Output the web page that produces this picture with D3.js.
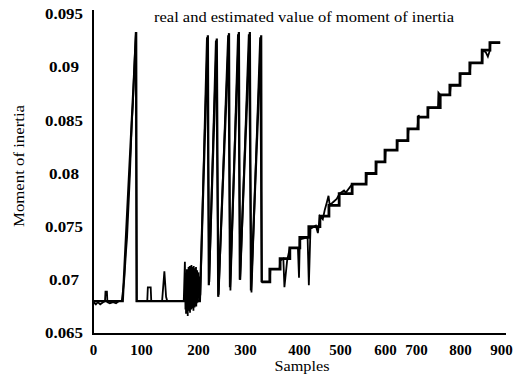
<!DOCTYPE html>
<html>
<head>
<meta charset="utf-8">
<script src="https://cdn.jsdelivr.net/npm/d3@7/dist/d3.min.js"></script>
<style>
  html, body { margin: 0; padding: 0; background: #fff; }
  svg { display: block; }
  svg text { font-family: "Liberation Serif", "Times New Roman", "DejaVu Serif", serif; fill: #000; }
</style>
</head>
<body>
<svg id="chart" width="519" height="378"></svg>
<script>
// ---------------- data ----------------
const titleText = "real and estimated value of moment of inertia";
const xAxisTitle = "Samples";
const yAxisTitle = "Moment of inertia";

const xTickValues = [0, 100, 200, 300, 400, 500, 600, 700, 800, 900];
const xTickLabels = ["0", "100", "200", "300", "400", "500", "600", "700", "800", "900"];
const yTickValues = [0.065, 0.07, 0.075, 0.08, 0.085, 0.09, 0.095];
const yTickLabels = ["0.065", "0.07", "0.075", "0.08", "0.085", "0.09", "0.095"];

// real value: ramp / sawtooth part (linear segments)
const realRampSamples = [0, 62, 90, 91, 204, 221, 223, 240, 243, 266, 268, 287, 289, 309, 311, 330, 331];
const realRampValues  = [0.0680, 0.0680, 0.0933, 0.0680, 0.0680, 0.0930, 0.0695, 0.0927, 0.0684, 0.0932, 0.0693,
                         0.0933, 0.0700, 0.0933, 0.0690, 0.0930, 0.0698];

// real value: staircase part (step after)
const realStepSamples = [331, 346, 365, 383, 402, 424, 451, 473, 498, 527, 558, 580, 600, 639, 674, 705, 727,
                         755, 777, 800, 824, 854, 873, 898];
const realStepValues  = [0.0698, 0.0710, 0.0720, 0.0730, 0.0740, 0.0750, 0.0760, 0.0770, 0.0781, 0.0790, 0.0800,
                         0.0811, 0.0822, 0.0831, 0.0842, 0.0853, 0.0862, 0.0874, 0.0883, 0.0894, 0.0904, 0.0916,
                         0.0923, 0.0923];

// estimated value
const estSamples = [0, 2, 6, 10, 15, 21, 25, 26, 29, 30, 35, 42, 48, 54, 60, 65, 69, 71, 74, 77, 81, 83, 89, 91,
  107, 111, 112, 117, 118, 137, 141, 144, 146, 175,
  177, 178, 178.5, 179, 179.5, 180, 180.5, 181, 181.5, 182, 182.5, 183, 183.5, 184, 184.5, 185, 185.5, 186, 186.5,
  187, 187.5, 188, 188.5, 189, 189.5, 190, 190.5, 191, 191.5, 192, 192.5, 193, 193.5, 194, 194.5, 195, 195.5, 196,
  196.5, 197, 197.5, 198, 198.5, 199, 199.5, 200, 201, 202, 203, 204, 205,
  219, 224, 238, 244, 264, 269, 285, 290, 307, 312, 328, 331,
  346, 347, 364, 365, 371, 373, 378, 383, 398, 400, 402, 421, 424, 428, 441, 446, 451, 458, 463, 468, 472, 475,
  483, 492, 499, 509, 513, 527, 558, 559, 580, 581, 600, 602, 639, 640, 673, 676, 703, 706, 707, 727, 728, 750,
  751, 755, 777, 779, 800, 801, 824, 826, 854, 855, 863, 868, 873, 874, 898];
const estValues = [0.0676, 0.0679, 0.0677, 0.0679, 0.0677, 0.0679, 0.0680, 0.0689, 0.0689, 0.0679, 0.0678, 0.0679,
  0.0678, 0.0680, 0.0680, 0.0700, 0.0728, 0.0740, 0.0770, 0.0800, 0.0850, 0.0865, 0.0933, 0.0680,
  0.0680, 0.0680, 0.0693, 0.0693, 0.0680, 0.0680, 0.0708, 0.0684, 0.0680, 0.0680,
  0.0717, 0.0672, 0.0705, 0.0668, 0.0702, 0.0674, 0.0710, 0.0670, 0.0708, 0.0666, 0.0704, 0.0676, 0.0712, 0.0671,
  0.0709, 0.0675, 0.0713, 0.0669, 0.0707, 0.0677, 0.0711, 0.0672, 0.0714, 0.0678, 0.0709, 0.0673, 0.0712, 0.0676,
  0.0708, 0.0671, 0.0713, 0.0679, 0.0710, 0.0674, 0.0711, 0.0677, 0.0708, 0.0680, 0.0712, 0.0675, 0.0706, 0.0678,
  0.0709, 0.0681, 0.0705, 0.0679, 0.0707, 0.0683, 0.0703, 0.0684, 0.0686,
  0.0928, 0.0698, 0.0925, 0.0686, 0.0930, 0.0690, 0.0931, 0.0700, 0.0931, 0.0688, 0.0928, 0.0698,
  0.0698, 0.0710, 0.0710, 0.0718, 0.0720, 0.0693, 0.0718, 0.0730, 0.0730, 0.0702, 0.0738, 0.0740, 0.0695, 0.0748,
  0.0751, 0.0744, 0.0760, 0.0757, 0.0766, 0.0773, 0.0779, 0.0770, 0.0773, 0.0776, 0.0781, 0.0784, 0.0782, 0.0790,
  0.0790, 0.0800, 0.0800, 0.0811, 0.0811, 0.0822, 0.0822, 0.0831, 0.0831, 0.0842, 0.0842, 0.0855, 0.0853, 0.0853,
  0.0862, 0.0862, 0.0876, 0.0874, 0.0874, 0.0883, 0.0883, 0.0894, 0.0894, 0.0904, 0.0904, 0.0916, 0.0914, 0.0910,
  0.0916, 0.0923, 0.0923];

// ---------------- layout ----------------
const svg = d3.select("#chart");

// axis pixel positions of the printed tick labels (labels are unevenly spaced in the figure)
const x = d3.scaleLinear()
  .domain(xTickValues)
  .range([93, 141, 198, 245, 299, 340, 385, 416, 460, 501]);
const y = d3.scaleLinear().domain([0.065, 0.095]).range([333, 14]);

const zip = (xs, ys) => xs.map((s, i) => [s, ys[i]]);

const lineLin = d3.line().x(d => x(d[0])).y(d => y(d[1])).curve(d3.curveLinear);
const lineStep = d3.line().x(d => x(d[0])).y(d => y(d[1])).curve(d3.curveStepAfter);

svg.append("path")
  .datum(zip(estSamples, estValues))
  .attr("d", lineLin)
  .attr("fill", "none").attr("stroke", "#000").attr("stroke-width", 1.8)
  .attr("stroke-linejoin", "miter").attr("stroke-miterlimit", 4);

svg.append("path")
  .datum(zip(realRampSamples, realRampValues))
  .attr("d", lineLin)
  .attr("fill", "none").attr("stroke", "#000").attr("stroke-width", 2.2)
  .attr("stroke-linejoin", "miter").attr("stroke-miterlimit", 4);

svg.append("path")
  .datum(zip(realStepSamples, realStepValues))
  .attr("d", lineStep)
  .attr("fill", "none").attr("stroke", "#000").attr("stroke-width", 2.8);

// axis lines
svg.append("line").attr("x1", 93).attr("x2", 93).attr("y1", 10).attr("y2", 334.5)
  .attr("stroke", "#000").attr("stroke-width", 2);
svg.append("line").attr("x1", 92).attr("x2", 506).attr("y1", 334).attr("y2", 334)
  .attr("stroke", "#000").attr("stroke-width", 2);

// x axis tick labels
const xAxis = d3.axisBottom(x).tickValues(xTickValues)
  .tickFormat((d, i) => xTickLabels[i]).tickSize(0).tickPadding(0);
const gx = svg.append("g").attr("transform", "translate(0,344)").call(xAxis)
  .attr("font-family", null).attr("font-size", null);
gx.select(".domain").remove();
gx.selectAll("text")
  .style("font-size", "15px").style("font-weight", "bold")
  .attr("dy", "0.71em");

// y axis tick labels
const yAxis = d3.axisLeft(y).tickValues(yTickValues)
  .tickFormat((d, i) => yTickLabels[i]).tickSize(0).tickPadding(0);
const gy = svg.append("g").attr("transform", "translate(64,0)").call(yAxis)
  .attr("font-family", null).attr("font-size", null);
gy.select(".domain").remove();
gy.selectAll("text")
  .style("font-size", "15px").style("font-weight", "bold")
  .attr("text-anchor", "middle")
  .attr("textLength", (d, i) => yTickLabels[i].length === 5 ? 38 : 30)
  .attr("lengthAdjust", "spacingAndGlyphs");

// titles
svg.append("text").attr("x", 304).attr("y", 22).attr("text-anchor", "middle")
  .style("font-size", "15px")
  .attr("textLength", 300).attr("lengthAdjust", "spacingAndGlyphs")
  .text(titleText);

svg.append("text").attr("x", 302).attr("y", 371).attr("text-anchor", "middle")
  .style("font-size", "15px")
  .attr("textLength", 55).attr("lengthAdjust", "spacingAndGlyphs")
  .text(xAxisTitle);

svg.append("text").attr("transform", "translate(24,166) rotate(-90)").attr("text-anchor", "middle")
  .style("font-size", "15px")
  .attr("textLength", 122).attr("lengthAdjust", "spacingAndGlyphs")
  .text(yAxisTitle);
</script>
</body>
</html>
